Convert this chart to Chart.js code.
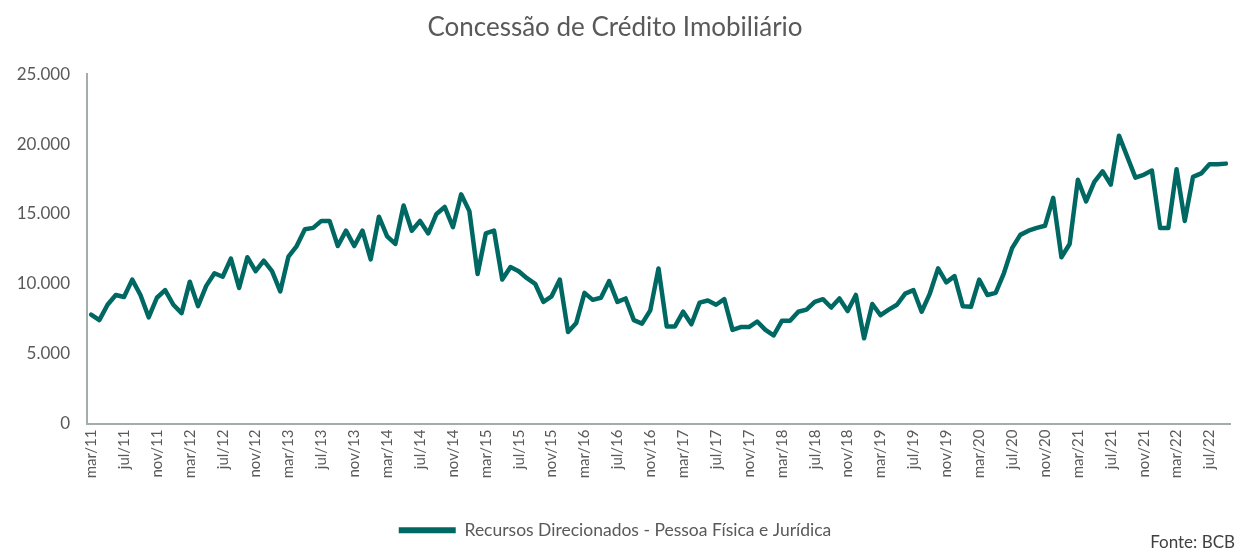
<!DOCTYPE html>
<html lang="pt-BR">
<head>
<meta charset="utf-8">
<title>Concessão de Crédito Imobiliário</title>
<script src="https://cdn.jsdelivr.net/npm/chart.js@4.4.1/dist/chart.umd.min.js"></script>
<style>
  html, body { margin: 0; padding: 0; background: #ffffff; }
</style>
</head>
<body>
<canvas id="chart" width="1236" height="550"></canvas>
<script>
// dados mensais, mar/11 a set/22 (R$ milhões)
const meses = ['jan','fev','mar','abr','mai','jun','jul','ago','set','out','nov','dez'];
const labels = [];
for (let a = 11; a <= 22; a++) {
  for (let m = 0; m < 12; m++) {
    if (a === 11 && m < 2) continue;
    if (a === 22 && m > 8) continue;
    labels.push(meses[m] + '/' + a);
  }
}

const recursosDirecionados = [
  7800, 7400, 8500, 9200, 9050, 10300, 9200, 7600, 9000, 9550, 8500, 7900,
  10150, 8400, 9850, 10750, 10500, 11800, 9700, 11900, 10900, 11650, 10900, 9450,
  11950, 12700, 13900, 14000, 14500, 14500, 12700, 13800, 12700, 13800, 11750, 14800,
  13400, 12850, 15600, 13800, 14500, 13600, 15000, 15500, 14050, 16400, 15200, 10700,
  13600, 13800, 10300, 11200, 10900, 10400, 10000, 8700, 9100, 10300, 6550, 7200,
  9350, 8850, 9000, 10200, 8700, 8950, 7400, 7150, 8100, 11100, 6950, 6950,
  8000, 7100, 8650, 8800, 8500, 8900, 6700, 6900, 6900, 7300, 6700, 6300,
  7350, 7350, 8000, 8150, 8700, 8900, 8300, 8950, 8050, 9200, 6100, 8550,
  7750, 8150, 8500, 9300, 9550, 8000, 9300, 11100, 10100, 10550, 8400, 8350,
  10300, 9200, 9350, 10750, 12550, 13500, 13800, 14000, 14150, 16150, 11900, 12850,
  17450, 15900, 17300, 18050, 17100, 20600, 19100, 17600, 17800, 18100, 14000, 14000,
  18200, 14500, 17650, 17900, 18550, 18550, 18600
];

const yTicks = [0, 5000, 10000, 15000, 20000, 25000];

const C = {
  line:  '#006863',
  axis:  '#a3adab',
  text:  '#595959',
  fonte: '#404040',
};
const FONT = "'Lato', 'Noto Sans', sans-serif";

// "Fonte: BCB" no canto inferior direito
const fontePlugin = {
  id: 'fonte',
  afterDraw(chart) {
    const ctx = chart.ctx;
    ctx.save();
    ctx.font = `17px ${FONT}`;
    ctx.fillStyle = C.fonte;
    ctx.textAlign = 'right';
    ctx.textBaseline = 'middle';
    ctx.fillText('Fonte: BCB', 1235, 543);
    ctx.restore();
  }
};

new Chart(document.getElementById('chart'), {
  type: 'line',
  data: {
    labels,
    datasets: [{
      label: 'Recursos Direcionados - Pessoa Física e Jurídica',
      data: recursosDirecionados,
      borderColor: C.line,
      backgroundColor: C.line,
      borderWidth: 4.5,
      borderJoinStyle: 'round',
      borderCapStyle: 'round',
      pointRadius: 0,
      tension: 0,
    }]
  },
  options: {
    responsive: false,
    animation: false,
    layout: { padding: { left: 0, right: 6, top: 0, bottom: 1 } },
    plugins: {
      title: {
        display: true,
        text: 'Concessão de Crédito Imobiliário',
        color: C.text,
        font: { family: FONT, size: 26, weight: 'normal' },
        padding: { top: 12, bottom: 31 },
      },
      legend: {
        position: 'bottom',
        labels: {
          color: C.text,
          font: { family: FONT, size: 17.5 },
          boxWidth: 57,
          boxHeight: 6,
          useBorderRadius: true,
          borderRadius: 3,
          padding: 8,
          generateLabels: chart => chart.data.datasets.map((ds, i) => ({
            text: ds.label,
            fillStyle: C.line,
            strokeStyle: C.line,
            lineWidth: 0,
            fontColor: C.text,
            datasetIndex: i,
          })),
        }
      },
      tooltip: { enabled: false },
    },
    scales: {
      x: {
        offset: true,
        grid: { display: false, drawTicks: false },
        border: { display: true, color: C.axis, width: 2 },
        afterFit: s => { s.height = 90; s.paddingLeft = 0; s.paddingRight = 0; },
        ticks: {
          autoSkip: false,
          minRotation: 90,
          maxRotation: 90,
          padding: 6,
          color: C.text,
          font: { family: FONT, size: 15 },
          callback: (v, i) => (i % 4 === 0 ? labels[i] : ''),
        }
      },
      y: {
        min: 0,
        max: 25000,
        afterBuildTicks: s => { s.ticks = yTicks.map(v => ({ value: v })); },
        grid: { display: false, drawTicks: false },
        border: { display: true, color: C.axis, width: 2 },
        afterFit: s => { s.width = 87; },
        ticks: {
          padding: 17,
          color: C.text,
          font: { family: FONT, size: 17 },
          callback: v => v.toLocaleString('pt-BR'),
        }
      }
    }
  },
  plugins: [fontePlugin]
});
</script>
</body>
</html>
